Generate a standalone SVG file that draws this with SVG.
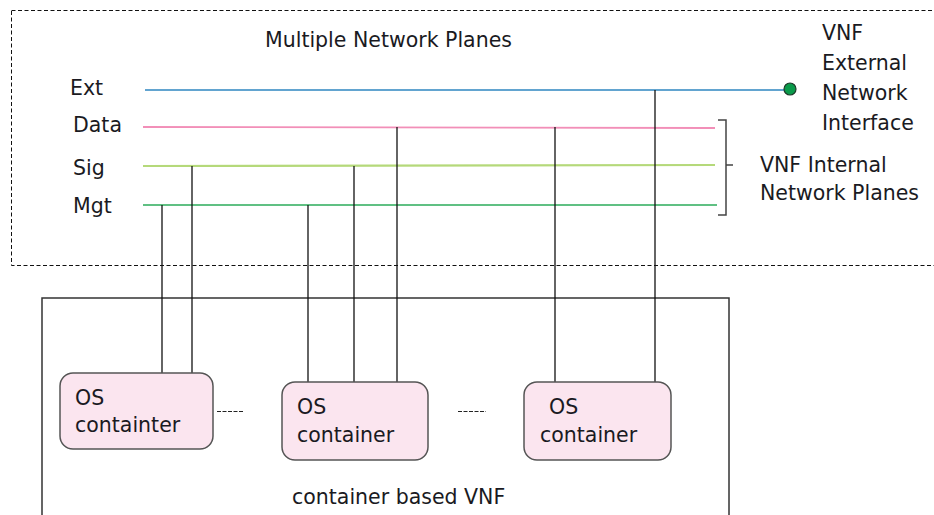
<svg xmlns="http://www.w3.org/2000/svg" width="934" height="515" viewBox="0 0 934 515">
  <style>
    text { font-family: "DejaVu Sans", "Liberation Sans", sans-serif; font-size: 20.5px; fill: #1a1a22; }
    .frame { fill: none; stroke: #111; stroke-width: 1; stroke-dasharray: 4 2.5; }
    .vnf { fill: none; stroke: #333; stroke-width: 1.5; }
    .link { stroke: #111; stroke-width: 1.3; }
    .box { fill: #fbe5ef; stroke: #555; stroke-width: 1.5; }
    .dots { stroke: #222; stroke-width: 1; stroke-dasharray: 4 1.5; }
  </style>

  <!-- network plane area and VNF enclosure -->
  <rect class="frame" x="11.5" y="10.5" width="940" height="255"/>
  <rect class="vnf" x="42" y="298" width="687" height="240"/>

  <text x="265" y="47">Multiple Network Planes</text>

  <!-- plane labels -->
  <g id="plane-labels">
    <text x="70" y="95">Ext</text>
    <text x="73" y="132">Data</text>
    <text x="73" y="175">Sig</text>
    <text x="73" y="213">Mgt</text>
  </g>

  <!-- connectors: planes, drops to containers -->
  <g id="connectors">
    <line x1="145" y1="90" x2="786" y2="90" stroke="#2e86c1" stroke-width="1.6"/>
    <line x1="143" y1="127" x2="715" y2="128" stroke="#f28fb8" stroke-width="1.8"/>
    <line x1="143" y1="166" x2="715" y2="165" stroke="#b5d97a" stroke-width="2.2"/>
    <line x1="143" y1="205" x2="717" y2="205" stroke="#2bab5a" stroke-width="1.6"/>

    <line class="link" x1="162" y1="205" x2="162" y2="374"/>
    <line class="link" x1="192" y1="166" x2="192" y2="374"/>
    <line class="link" x1="308" y1="205" x2="308" y2="383"/>
    <line class="link" x1="354" y1="166" x2="354" y2="383"/>
    <line class="link" x1="397" y1="127" x2="397" y2="383"/>
    <line class="link" x1="555" y1="127" x2="555" y2="383"/>
    <line class="link" x1="655" y1="90" x2="655" y2="383"/>

    <line class="dots" x1="217" y1="411.5" x2="243" y2="411.5"/>
    <line class="dots" x1="458" y1="411.5" x2="486" y2="411.5"/>
  </g>

  <!-- external interface point -->
  <g id="ext-interface">
    <circle cx="790" cy="89" r="6" fill="#0a9a4a" stroke="#1d3b2a" stroke-width="1.2"/>
    <text x="822" y="40">VNF</text>
    <text x="822" y="70">External</text>
    <text x="822" y="100">Network</text>
    <text x="822" y="130">Interface</text>
  </g>

  <!-- internal planes bracket -->
  <g id="internal-planes">
    <path d="M718 120 H726 V215 H718 M726 165 H733" fill="none" stroke="#444" stroke-width="1.5"/>
    <text x="760" y="172">VNF Internal</text>
    <text x="760" y="200">Network Planes</text>
  </g>

  <g id="container-1">
    <rect class="box" x="60" y="373" width="153" height="76" rx="13"/>
    <text x="75" y="405">OS</text>
    <text x="75" y="432">containter</text>
  </g>
  <g id="container-2">
    <rect class="box" x="282" y="382" width="146" height="78" rx="13"/>
    <text x="297" y="414">OS</text>
    <text x="297" y="442">container</text>
  </g>
  <g id="container-3">
    <rect class="box" x="524" y="382" width="147" height="78" rx="13"/>
    <text x="549" y="414">OS</text>
    <text x="540" y="442">container</text>
  </g>

  <text x="292" y="504">container based VNF</text>
</svg>
